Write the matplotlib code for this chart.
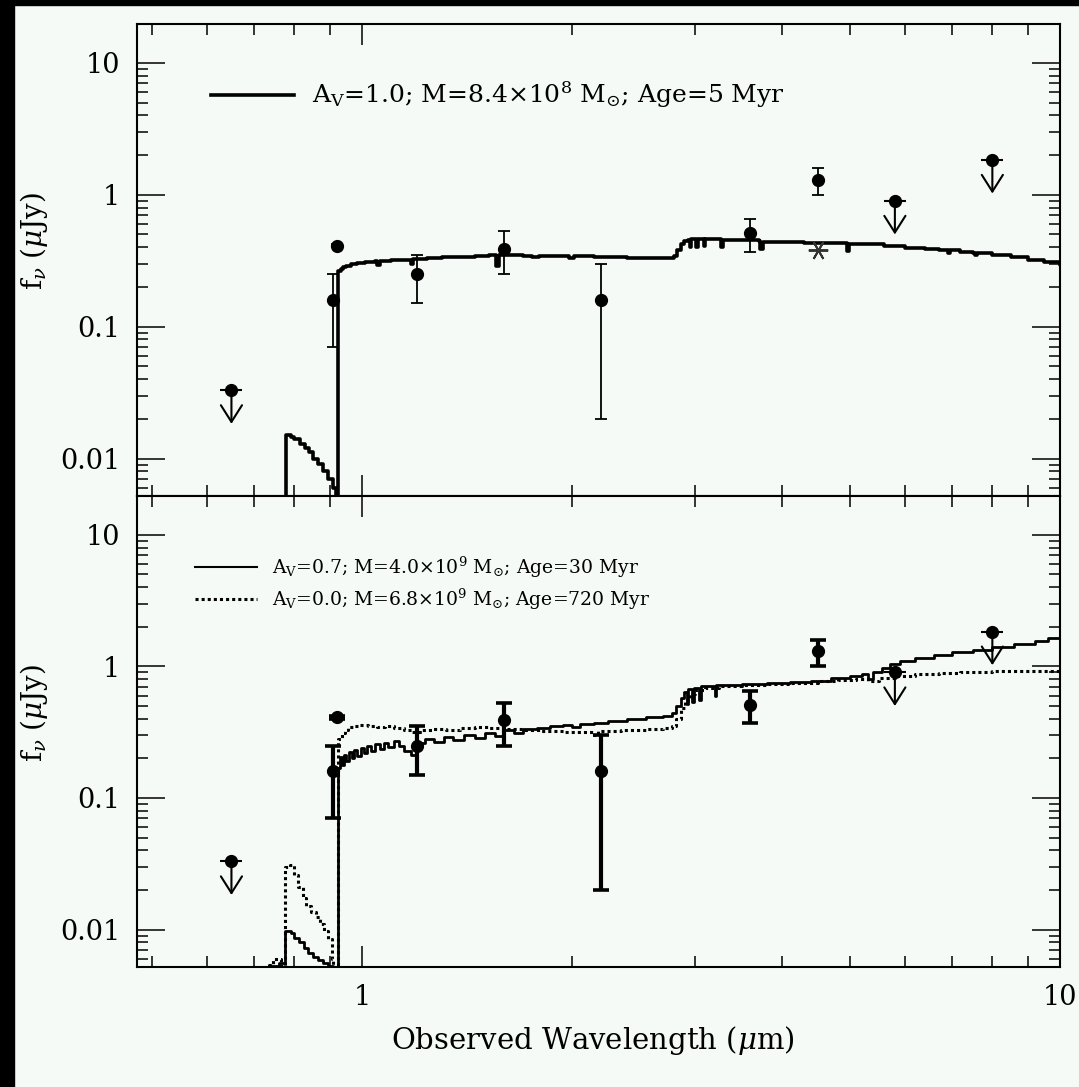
import numpy as np
import matplotlib
matplotlib.use("Agg")
import matplotlib.pyplot as plt
from matplotlib.patches import Rectangle
from matplotlib.ticker import FixedLocator, FixedFormatter, NullFormatter

plt.rcParams["font.family"] = ["DejaVu Serif"]
plt.rcParams["mathtext.fontset"] = "dejavuserif"

BG = "#f5faf7"

# photometry: detections
wl = np.array([0.91, 0.92, 1.2, 1.6, 2.2, 3.6, 4.5])
flux = np.array([0.16, 0.41, 0.25, 0.39, 0.16, 0.51, 1.30])
flux_lo = np.array([0.07, 0.40, 0.15, 0.25, 0.02, 0.37, 1.00])
flux_hi = np.array([0.25, 0.42, 0.35, 0.53, 0.30, 0.65, 1.60])

# upper limits
lim_wl = np.array([0.65, 5.8, 8.0])
lim_flux = np.array([0.033, 0.90, 1.84])

# 4.5 micron value after removing the stellar contribution
star_wl = [4.5]
star_flux = [0.38]

# model SEDs (step spectra)
m1_wl = [0.700, 0.778, 0.790, 0.800, 0.815, 0.828, 0.840, 0.852, 0.866, 0.880,
         0.895, 0.908, 0.918, 0.922, 0.925, 0.932, 0.940, 0.950, 0.965, 0.985,
         1.010, 1.045, 1.052, 1.060, 1.100, 1.140, 1.175, 1.185, 1.240, 1.300,
         1.380, 1.450, 1.520, 1.555, 1.570, 1.700, 1.750, 1.790, 1.900, 1.980,
         2.010, 2.150, 2.400, 2.600, 2.760, 2.800, 2.830, 2.860, 2.890, 2.930,
         2.950, 2.965, 3.010, 3.025, 3.090, 3.105, 3.250, 3.270, 3.290, 3.450,
         3.700, 3.720, 3.760, 4.000, 4.300, 4.700, 4.950, 4.990, 5.300, 5.600,
         6.000, 6.400, 6.700, 6.900, 6.950, 7.200, 7.500, 7.550, 7.600, 8.000,
         8.500, 9.000, 9.500, 10.00, 10.50]
m1_flux = [1e-4, 0.0150, 0.0146, 0.0140, 0.0130, 0.0120, 0.0112, 0.0100, 0.0091, 0.0081,
           0.0070, 0.0060, 0.0052, 1e-4, 0.262, 0.272, 0.282, 0.290, 0.298, 0.304,
           0.310, 0.312, 0.292, 0.314, 0.318, 0.322, 0.300, 0.326, 0.330, 0.336,
           0.340, 0.345, 0.350, 0.290, 0.350, 0.346, 0.336, 0.346, 0.342, 0.334,
           0.342, 0.338, 0.334, 0.332, 0.330, 0.345, 0.380, 0.420, 0.445, 0.455,
           0.400, 0.458, 0.405, 0.462, 0.410, 0.462, 0.458, 0.405, 0.455, 0.450,
           0.445, 0.390, 0.442, 0.438, 0.434, 0.430, 0.375, 0.426, 0.420, 0.410,
           0.398, 0.388, 0.380, 0.360, 0.378, 0.370, 0.364, 0.350, 0.362, 0.352,
           0.338, 0.322, 0.308, 0.295, 0.290]

m2_wl = [0.700, 0.735, 0.760, 0.776, 0.790, 0.800, 0.812, 0.825, 0.838, 0.852,
         0.866, 0.880, 0.895, 0.908, 0.925, 0.930, 0.936, 0.942, 0.950, 0.958,
         0.966, 0.975, 0.985, 0.995, 1.005, 1.018, 1.030, 1.045, 1.060, 1.075,
         1.090, 1.110, 1.130, 1.150, 1.175, 1.195, 1.230, 1.270, 1.310, 1.350,
         1.400, 1.450, 1.500, 1.550, 1.600, 1.650, 1.700, 1.780, 1.860, 1.940,
         2.000, 2.050, 2.150, 2.250, 2.400, 2.550, 2.700, 2.780, 2.820, 2.860,
         2.890, 2.920, 2.935, 2.970, 2.985, 3.040, 3.055, 3.150, 3.200, 3.215,
         3.300, 3.500, 3.800, 4.100, 4.400, 4.700, 5.000, 5.200, 5.300, 5.400,
         5.550, 5.700, 5.900, 6.200, 6.600, 7.000, 7.500, 8.000, 8.600, 9.200,
         9.600, 10.00, 10.50]
m2_flux = [1e-4, 0.0053, 0.0056, 0.0097, 0.0094, 0.0087, 0.0080, 0.0073, 0.0067, 0.0062,
           0.0059, 0.0056, 0.0053, 1e-4, 0.170, 0.205, 0.178, 0.212, 0.190, 0.222,
           0.200, 0.230, 0.208, 0.238, 0.218, 0.248, 0.228, 0.258, 0.236, 0.262,
           0.245, 0.270, 0.250, 0.228, 0.212, 0.262, 0.280, 0.268, 0.290, 0.278,
           0.300, 0.288, 0.312, 0.296, 0.330, 0.312, 0.334, 0.340, 0.350, 0.356,
           0.346, 0.362, 0.372, 0.385, 0.400, 0.410, 0.420, 0.440, 0.500, 0.580,
           0.640, 0.520, 0.670, 0.540, 0.690, 0.560, 0.705, 0.715, 0.600, 0.720,
           0.725, 0.735, 0.745, 0.760, 0.780, 0.810, 0.845, 0.870, 0.800, 0.900,
           0.980, 1.050, 1.100, 1.160, 1.220, 1.280, 1.340, 1.410, 1.480, 1.560,
           1.640, 1.720, 1.750]

m3_wl = [0.700, 0.735, 0.745, 0.765, 0.776, 0.788, 0.798, 0.810, 0.822, 0.832,
         0.845, 0.858, 0.870, 0.882, 0.895, 0.905, 0.910, 0.925, 0.935, 0.945,
         0.955, 0.970, 0.990, 1.020, 1.050, 1.080, 1.110, 1.150, 1.180, 1.220,
         1.260, 1.320, 1.380, 1.450, 1.520, 1.600, 1.700, 1.800, 1.950, 2.100,
         2.150, 2.180, 2.350, 2.550, 2.700, 2.780, 2.820, 2.860, 2.900, 2.950,
         3.000, 3.100, 3.250, 3.500, 3.800, 4.100, 4.500, 4.800, 5.100, 5.300,
         5.500, 5.800, 6.200, 6.700, 7.200, 8.000, 9.000, 10.00, 10.50]
m3_flux = [1e-4, 0.0054, 0.0060, 0.0053, 0.0300, 0.0310, 0.0260, 0.0210, 0.0175, 0.0150,
           0.0137, 0.0125, 0.0110, 0.0097, 0.0085, 0.0060, 1e-4, 0.280, 0.310, 0.330,
           0.345, 0.352, 0.356, 0.350, 0.345, 0.352, 0.340, 0.330, 0.318, 0.326,
           0.336, 0.330, 0.340, 0.346, 0.340, 0.336, 0.328, 0.322, 0.318, 0.320,
           0.300, 0.322, 0.326, 0.332, 0.338, 0.350, 0.400, 0.480, 0.560, 0.620,
           0.660, 0.690, 0.705, 0.720, 0.735, 0.750, 0.770, 0.790, 0.800, 0.770,
           0.820, 0.840, 0.870, 0.895, 0.905, 0.915, 0.915, 0.915, 0.910]

XMIN, XMAX = 0.476, 10.0
YMIN, YMAX = 0.0052, 19.7


def style_axis(ax, show_xlabels):
    ax.set_facecolor(BG)
    ax.set_xscale("log")
    ax.set_yscale("log")
    ax.set_xlim(XMIN, XMAX)
    ax.set_ylim(YMIN, YMAX)
    for s in ax.spines.values():
        s.set_linewidth(1.5)
    ax.xaxis.set_major_locator(FixedLocator([1, 10]))
    ax.xaxis.set_minor_locator(FixedLocator([0.5, 0.6, 0.7, 0.8, 0.9, 2, 3, 4, 5, 6, 7, 8, 9]))
    ax.xaxis.set_minor_formatter(NullFormatter())
    if show_xlabels:
        ax.xaxis.set_major_formatter(FixedFormatter(["1", "10"]))
    else:
        ax.xaxis.set_major_formatter(NullFormatter())
    ax.yaxis.set_major_locator(FixedLocator([0.01, 0.1, 1, 10]))
    ax.yaxis.set_major_formatter(FixedFormatter(["0.01", "0.1", "1", "10"]))
    minors = [m * d for d in (0.001, 0.01, 0.1, 1, 10) for m in range(2, 10)]
    ax.yaxis.set_minor_locator(FixedLocator(minors))
    ax.yaxis.set_minor_formatter(NullFormatter())
    ax.tick_params(which="both", direction="in", top=True, right=True,
                   width=1.1, labelsize=19.5, pad=12)
    ax.tick_params(which="major", length=15)
    ax.tick_params(which="minor", length=8)
    ax.tick_params(axis="y", which="major", length=20)
    ax.set_ylabel(r"f$_\nu$ ($\mu$Jy)", fontsize=20)
    ax.yaxis.set_label_coords(-0.094, 0.54)


def draw_limits(ax):
    for x, y in zip(lim_wl, lim_flux):
        ax.plot([x], [y], "o", color="k", ms=8.5, zorder=5)
        ax.plot([x], [y], "_", color="k", ms=16, mew=1.5, zorder=5)
        ax.annotate("", xy=(x, y / 1.8), xytext=(x, y),
                    arrowprops=dict(arrowstyle="->,head_length=0.6,head_width=0.38",
                                    lw=1.5, color="k", shrinkA=0, shrinkB=0,
                                    mutation_scale=20))


fig = plt.figure(figsize=(10.79, 10.87), dpi=100, facecolor=BG)
fig.patches.append(Rectangle((0, 1 - 5 / 1087), 1, 5 / 1087,
                             transform=fig.transFigure, color="black", zorder=10))
fig.patches.append(Rectangle((0, 0), 14 / 1079, 1,
                             transform=fig.transFigure, color="black", zorder=10))

ax1 = fig.add_axes([0.12697, 0.54369, 0.85542, 0.43422])
ax2 = fig.add_axes([0.12697, 0.11040, 0.85542, 0.43330])

# top panel: young model
style_axis(ax1, False)
ax1.plot(m1_wl, m1_flux, drawstyle="steps-post", color="k", lw=2.6)
ax1.errorbar(wl, flux, yerr=[flux - flux_lo, flux_hi - flux], fmt="o", color="k",
             ms=8.5, elinewidth=1.3, capsize=4.5, capthick=1.3, zorder=5)
draw_limits(ax1)
ax1.plot(star_wl, star_flux, marker=(6, 2, 90), ls="none", color="#333333",
         ms=14, mew=1.4, zorder=5)
ax1.plot([0.080, 0.170], [0.8496, 0.8496], transform=ax1.transAxes, color="k", lw=2.6)
ax1.text(0.1896, 0.8496,
         r"A$_{\rm V}$=1.0; M=8.4$\times$10$^{8}$ M$_{\odot}$; Age=5 Myr",
         transform=ax1.transAxes, fontsize=18, va="center", ha="left")

# bottom panel: older models
style_axis(ax2, True)
ax2.plot(m2_wl, m2_flux, drawstyle="steps-post", color="k", lw=2.0)
ax2.plot(m3_wl, m3_flux, drawstyle="steps-post", color="k", lw=2.2, ls=(0, (1, 1)))
ax2.errorbar(wl, flux, yerr=[flux - flux_lo, flux_hi - flux], fmt="o", color="k",
             ms=8.5, elinewidth=3.0, capsize=5.5, capthick=2.6, zorder=5)
draw_limits(ax2)
ax2.plot([0.0628, 0.130], [0.849, 0.849], transform=ax2.transAxes, color="k", lw=1.5)
ax2.plot([0.0628, 0.130], [0.781, 0.781], transform=ax2.transAxes, color="k", lw=2.2,
         ls=(0, (1, 1)))
ax2.text(0.146, 0.849,
         r"A$_{\rm V}$=0.7; M=4.0$\times$10$^{9}$ M$_{\odot}$; Age=30 Myr",
         transform=ax2.transAxes, fontsize=13.5, va="center", ha="left")
ax2.text(0.146, 0.781,
         r"A$_{\rm V}$=0.0; M=6.8$\times$10$^{9}$ M$_{\odot}$; Age=720 Myr",
         transform=ax2.transAxes, fontsize=13.5, va="center", ha="left")
ax2.set_xlabel(r"Observed Wavelength ($\mu$m)", fontsize=21)
ax2.xaxis.set_label_coords(0.494, -0.12)

fig.savefig("out.png", dpi=100, facecolor=BG)
